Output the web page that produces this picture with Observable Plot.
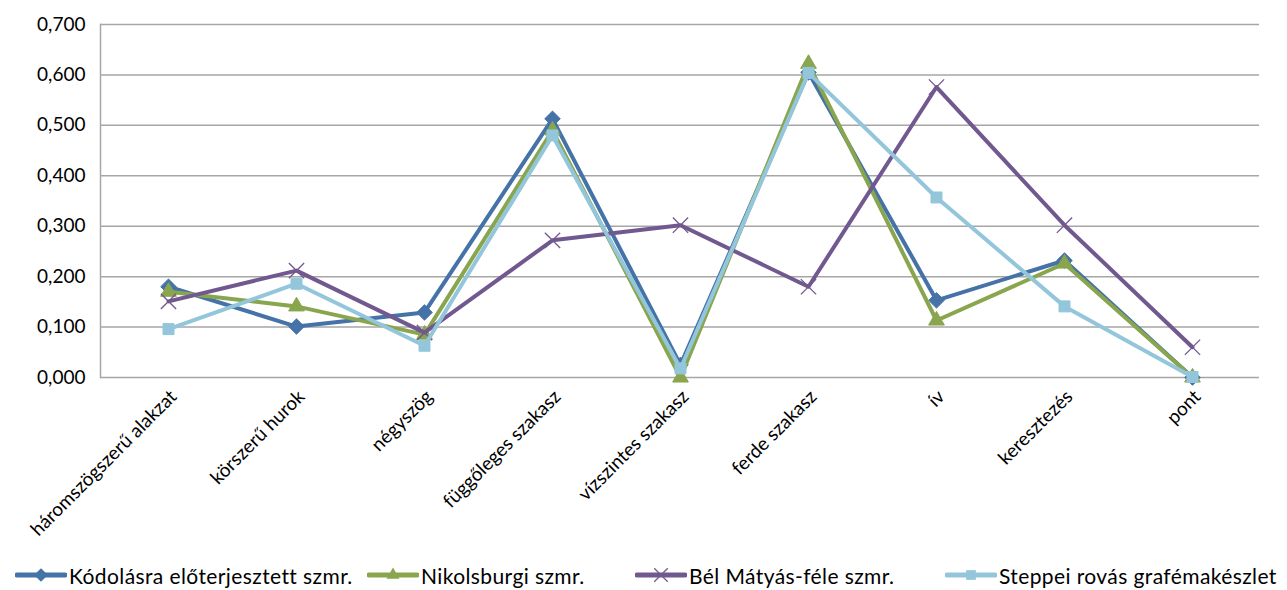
<!DOCTYPE html>
<html>
<head>
<meta charset="utf-8">
<script src="https://cdn.jsdelivr.net/npm/d3@7"></script>
<script src="https://cdn.jsdelivr.net/npm/@observablehq/plot@0.6"></script>
<style>
  html, body { margin: 0; padding: 0; background: #fff; }
  #chart svg { display: block; }
  #legend { position: relative; height: 32px; font-family: Lato, "Open Sans", sans-serif; font-size: 21px; letter-spacing: 0.4px; color: #000; white-space: nowrap; width: 1287px; }
  .item { position: absolute; top: 4px; display: flex; align-items: center; }
  .item svg { display: block; margin-right: 2px; }
</style>
</head>
<body>
<div id="chart"></div>
<div id="legend"></div>
<script>
const categories = ["háromszögszerű alakzat", "körszerű hurok", "négyszög", "függőleges szakasz", "vízszintes szakasz", "ferde szakasz", "ív", "keresztezés", "pont"];
const seriesNames = ["Kódolásra előterjesztett szmr.", "Nikolsburgi szmr.", "Bél Mátyás-féle szmr.", "Steppei rovás grafémakészlet"];
const kodolasra = [0.180, 0.101, 0.129, 0.513, 0.025, 0.605, 0.153, 0.232, 0.000];
const nikolsburgi = [0.170, 0.141, 0.085, 0.490, 0.000, 0.622, 0.113, 0.226, 0.000];
const belMatyas = [0.151, 0.212, 0.089, 0.272, 0.302, 0.180, 0.576, 0.302, 0.060];
const steppei = [0.096, 0.186, 0.063, 0.480, 0.018, 0.604, 0.357, 0.141, 0.001];
const yTicks = [0, 0.1, 0.2, 0.3, 0.4, 0.5, 0.6, 0.7];

const colors = ["#4572A7", "#89A54E", "#71588F", "#93C6DA"];
const symbols = ["diamond2", "triangle2", "times", "square2"];
const radii = [7, 7.5, 7, 7];
const allValues = [kodolasra, nikolsburgi, belMatyas, steppei];

const rows = [];
allValues.forEach((vals, si) => vals.forEach((v, i) => rows.push({series: seriesNames[si], cat: categories[i], value: v})));

const fmt = v => d3.format(".3f")(v).replace(".", ",");

const seriesMarks = [];
seriesNames.forEach((s, si) => {
  const data = rows.filter(r => r.series === s);
  seriesMarks.push(Plot.line(data, {x: "cat", y: "value", stroke: colors[si], strokeWidth: 4, strokeLinejoin: "round", strokeLinecap: "round"}));
  if (symbols[si] === "times") {
    seriesMarks.push(Plot.dot(data, {x: "cat", y: "value", symbol: () => "times", r: radii[si], stroke: colors[si], strokeWidth: 1.3, fill: "none"}));
  } else {
    seriesMarks.push(Plot.dot(data, {x: "cat", y: "value", symbol: () => symbols[si], r: radii[si], fill: colors[si], stroke: colors[si], strokeWidth: 1}));
  }
});

const plot = Plot.plot({
  width: 1287,
  height: 558,
  marginLeft: 100,
  marginRight: 28,
  marginTop: 24,
  marginBottom: 181,
  style: {fontFamily: "Lato, 'Open Sans', sans-serif", fontSize: "19px", color: "#000", background: "#fff"},
  x: {type: "point", domain: categories, padding: 0.5, label: null},
  y: {domain: [0, 0.7], label: null},
  symbol: {type: "identity"},
  marks: [
    Plot.gridY(yTicks, {stroke: "#A6A6A6", strokeOpacity: 1, strokeWidth: 1.5}),
    Plot.axisY({ticks: yTicks, tickFormat: fmt, tickSize: 0, tickPadding: 15, label: null, fontSize: 19}),
    Plot.axisX({tickRotate: -45, tickSize: 0, tickPadding: 16, label: null, fontSize: 19, dx: 5}),
    Plot.frame({anchor: "left", stroke: "#A6A6A6", strokeWidth: 1.5}),
    ...seriesMarks
  ]
});
document.getElementById("chart").appendChild(plot);

// Legend
const legend = document.getElementById("legend");
const lefts = [15, 367, 635, 945];
seriesNames.forEach((s, si) => {
  const item = document.createElement("div");
  item.className = "item";
  item.style.left = lefts[si] + "px";
  const sw = d3.create("svg").attr("width", 52).attr("height", 26);
  sw.append("line").attr("x1", 2).attr("x2", 50).attr("y1", 13).attr("y2", 13).attr("stroke", colors[si]).attr("stroke-width", 5).attr("stroke-linecap", "round");
  const sym = {diamond2: d3.symbolDiamond2, triangle2: d3.symbolTriangle2, times: d3.symbolTimes, square2: d3.symbolSquare2}[symbols[si]];
  const p = sw.append("path").attr("transform", "translate(26,13)").attr("d", d3.symbol(sym, 120)());
  if (symbols[si] === "times") p.attr("fill", "none").attr("stroke", colors[si]).attr("stroke-width", 1.3);
  else p.attr("fill", colors[si]);
  item.appendChild(sw.node());
  const t = document.createElement("span");
  t.textContent = s;
  item.appendChild(t);
  legend.appendChild(item);
});
</script>
</body>
</html>
